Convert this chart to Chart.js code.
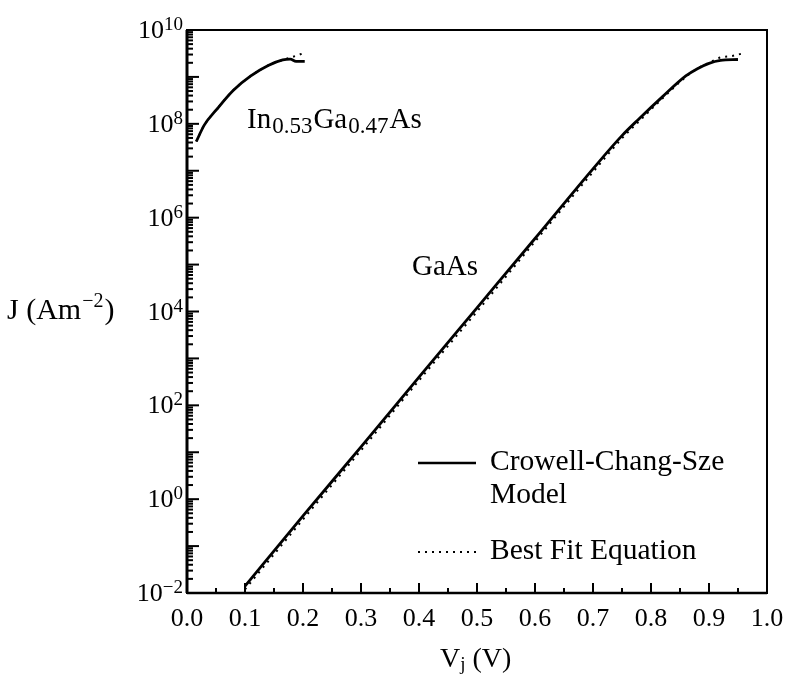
<!DOCTYPE html>
<html><head><meta charset="utf-8">
<script src="https://cdn.jsdelivr.net/npm/chart.js@4.4.1/dist/chart.umd.min.js"></script>
<style>html,body{margin:0;padding:0;background:#fff;}#wrap{width:785px;height:677px;position:relative;}</style>
</head><body><div id="wrap"><canvas id="c"></canvas></div>
<script>
// ---- data ----
const gaasV        = [0.10, 0.20, 0.30, 0.40, 0.50, 0.60, 0.70, 0.75, 0.78, 0.82, 0.86, 0.88, 0.90, 0.92, 0.95];
const gaasModelJ   = [1.4e-2, 4.4e-1, 1.3e1, 4.0e2, 1.2e4, 3.6e5, 1.1e7, 5.6e7, 1.3e8, 3.8e8, 1.05e9, 1.5e9, 1.95e9, 2.25e9, 2.35e9];
const gaasFitV     = [0.10, 0.20, 0.30, 0.40, 0.50, 0.60, 0.70, 0.75, 0.78, 0.82, 0.86, 0.88, 0.90, 0.92, 0.94, 0.955];
const gaasFitJ     = [1.2e-2, 3.7e-1, 1.1e1, 3.4e2, 1.0e4, 3.1e5, 9.4e6, 4.9e7, 1.15e8, 3.5e8, 1.0e9, 1.5e9, 2.0e9, 2.6e9, 2.8e9, 3.1e9];
const ingaasV      = [0.016, 0.03, 0.05, 0.08, 0.11, 0.14, 0.165, 0.178, 0.188, 0.203];
const ingaasModelJ = [4.2e7, 9.5e7, 1.95e8, 5.2e8, 1.05e9, 1.75e9, 2.3e9, 2.4e9, 2.15e9, 2.15e9];
const ingaasFitV   = [0.016, 0.03, 0.05, 0.08, 0.11, 0.14, 0.165, 0.183, 0.201];
const ingaasFitJ   = [4.2e7, 9.5e7, 1.95e8, 5.2e8, 1.05e9, 1.75e9, 2.3e9, 2.7e9, 3.2e9];
const xTickValues  = [0.0, 0.1, 0.2, 0.3, 0.4, 0.5, 0.6, 0.7, 0.8, 0.9, 1.0];
const xTickLabels  = ['0.0','0.1','0.2','0.3','0.4','0.5','0.6','0.7','0.8','0.9','1.0'];
const yTickValues  = [1e10, 1e8, 1e6, 1e4, 1e2, 1e0, 1e-2];
const yTickExps    = ['10','8','6','4','2','0','\u22122'];
const legendLabels = ['Crowell-Chang-Sze', 'Model', 'Best Fit Equation'];

const pts = (xs, ys) => xs.map((x, i) => ({x: x, y: ys[i]}));
const SERIF = '"Liberation Serif", "Times New Roman", serif';

const deco = {
  id: 'deco',
  afterDatasetsDraw(chart) {
    const ctx = chart.ctx, a = chart.chartArea, xs = chart.scales.x, ys = chart.scales.y;
    ctx.save();
    ctx.strokeStyle = '#000'; ctx.fillStyle = '#000';
    const seg = (x1, y1, x2, y2, w) => { ctx.lineWidth = w; ctx.beginPath(); ctx.moveTo(x1, y1); ctx.lineTo(x2, y2); ctx.stroke(); };
    // frame
    ctx.lineWidth = 2;
    ctx.strokeRect(a.left, a.top, a.right - a.left, a.bottom - a.top);
    seg(a.left, a.top, a.left, a.bottom, 3);
    seg(a.left, a.bottom, a.right, a.bottom, 2.5);
    // y ticks (inward)
    for (let e = -2; e <= 10; e++) {
      for (let m = 1; m <= 9; m++) {
        if (e === 10 && m > 1) break;
        const y = ys.getPixelForValue(m * Math.pow(10, e));
        seg(a.left, y, a.left + (m === 1 ? 12 : 6), y, 2);
      }
    }
    // x ticks (inward)
    for (let i = 1; i < 20; i++) {
      const x = xs.getPixelForValue(i * 0.05);
      seg(x, a.bottom, x, a.bottom - (i % 2 === 0 ? 10 : 5), 2);
    }
    // x labels
    ctx.font = '26px ' + SERIF; ctx.textAlign = 'center'; ctx.textBaseline = 'alphabetic';
    xTickValues.forEach((v, i) => ctx.fillText(xTickLabels[i], xs.getPixelForValue(v), a.bottom + 33));
    // y labels with superscript
    yTickValues.forEach((v, i) => {
      const y = ys.getPixelForValue(v);
      ctx.font = '19px ' + SERIF; ctx.textAlign = 'right';
      const exp = yTickExps[i];
      const ew = ctx.measureText(exp).width;
      const right = a.left - 4;
      ctx.fillText(exp, right, y);
      ctx.font = '26px ' + SERIF;
      ctx.fillText('10', right - ew, y + 8);
    });
    // axis titles
    ctx.textAlign = 'left';
    ctx.font = '30px ' + SERIF;
    let x0 = 7, yb = 319;
    ctx.fillText('J (Am', x0, yb);
    let w = ctx.measureText('J (Am').width;
    ctx.font = '20px ' + SERIF; ctx.fillText('\u22122', x0 + w + 1, yb - 12);
    let w2 = ctx.measureText('\u22122').width;
    ctx.font = '30px ' + SERIF; ctx.fillText(')', x0 + w + w2 + 2, yb);
    // V_j (V)
    ctx.font = '28px ' + SERIF;
    x0 = 440; yb = 667;
    ctx.fillText('V', x0, yb); w = ctx.measureText('V').width;
    ctx.font = '19px ' + SERIF; ctx.fillText('j', x0 + w, yb + 3); w2 = ctx.measureText('j').width;
    ctx.font = '28px ' + SERIF; ctx.fillText(' (V)', x0 + w + w2, yb);
    // annotations
    ctx.font = '29px ' + SERIF;
    ctx.fillText('GaAs', 412, 275);
    const parts = [['In', 0], ['0.53', 1], ['Ga', 0], ['0.47', 1], ['As', 0]];
    let xx = 247; yb = 128;
    parts.forEach(([t, sub]) => {
      ctx.font = (sub ? '23px ' : '29px ') + SERIF;
      ctx.fillText(t, xx, yb + (sub ? 5 : 0));
      xx += ctx.measureText(t).width + 1;
    });
    // legend
    ctx.font = '29.5px ' + SERIF;
    seg(418, 463, 476, 463, 2.5);
    ctx.fillText(legendLabels[0], 490, 470);
    ctx.fillText(legendLabels[1], 490, 503);
    ctx.setLineDash([2, 5]);
    seg(418, 552, 478, 552, 2);
    ctx.setLineDash([]);
    ctx.fillText(legendLabels[2], 490, 559);
    ctx.restore();
  }
};

new Chart(document.getElementById('c'), {
  type: 'scatter',
  data: {
    datasets: [
      {label: 'GaAs fit', data: pts(gaasFitV, gaasFitJ), showLine: true, borderColor: '#000', borderWidth: 2, borderDash: [2, 5], pointRadius: 0, cubicInterpolationMode: 'monotone'},
      {label: 'InGaAs fit', data: pts(ingaasFitV, ingaasFitJ), showLine: true, borderColor: '#000', borderWidth: 2, borderDash: [2, 5], pointRadius: 0, cubicInterpolationMode: 'monotone'},
      {label: 'GaAs model', data: pts(gaasV, gaasModelJ), showLine: true, borderColor: '#000', borderWidth: 2.8, pointRadius: 0, cubicInterpolationMode: 'monotone'},
      {label: 'InGaAs model', data: pts(ingaasV, ingaasModelJ), showLine: true, borderColor: '#000', borderWidth: 2.8, pointRadius: 0, cubicInterpolationMode: 'monotone'}
    ]
  },
  options: {
    responsive: true, maintainAspectRatio: false, animation: false,
    layout: {padding: {left: 187, right: 18, top: 30, bottom: 84}},
    plugins: {legend: {display: false}, tooltip: {enabled: false}},
    scales: {
      x: {type: 'linear', min: 0, max: 1, display: false},
      y: {type: 'logarithmic', min: 1e-2, max: 1e10, display: false}
    }
  },
  plugins: [deco]
});
</script></body></html>
